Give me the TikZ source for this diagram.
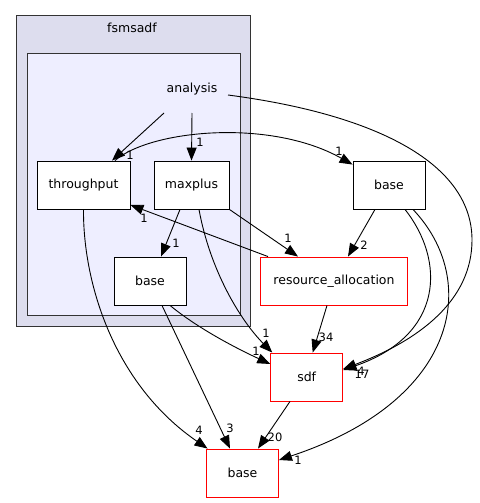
\documentclass[tikz,border=0pt]{standalone}
\usepackage{fontspec}
\setmainfont{DejaVu Sans}
\usetikzlibrary{arrows.meta,calc}
\definecolor{outerfill}{HTML}{DDDDEE}
\definecolor{innerfill}{HTML}{EEEEFF}
\definecolor{clborder}{HTML}{333333}
\begin{document}
\begin{tikzpicture}[x=1pt,y=-1pt,
  box/.style={draw=black, fill=white, line width=0.9pt, minimum height=48pt, inner sep=0pt, font=\fontsize{12.5}{14}\selectfont},
  redbox/.style={box, draw=red},
  edge/.style={draw=black, line width=0.9pt, -{Triangle[length=13pt,width=10pt]}},
  lbl/.style={font=\fontsize{11.5}{13}\selectfont, inner sep=0pt},
  cltext/.style={font=\fontsize{12.5}{14}\selectfont, inner sep=1pt},
]
\useasboundingbox (0,0) rectangle (479,503);
\fill[white] (0,0) rectangle (479,503);
\draw[fill=outerfill, draw=clborder, line width=1pt] (16,16) rectangle (250.5,326);
\node[cltext] (fsmsadf) at (132,28) {fsmsadf};
\draw[fill=innerfill, draw=clborder, line width=1pt] (27,54) rectangle (240,315);
\node[cltext] (analysis) at (192,89) {analysis};
\coordinate (an1) at (164,113);
\coordinate (an2) at (192,113);
\coordinate (an3) at (228,95);

\node[box, minimum width=93pt] (throughput) at (83.5,185) {throughput};
\node[box, minimum width=75pt] (maxplus) at (191.5,185) {maxplus};
\node[box, minimum width=72pt] (baseA) at (150,281) {base};
\node[box, minimum width=72pt] (baseR) at (389,185) {base};
\node[redbox, minimum width=147pt] (resalloc) at (334,281) {resource\_allocation};
\node[redbox, minimum width=72pt] (sdf) at (306.7,377) {sdf};
\node[redbox, minimum width=72pt] (baseB) at (242.5,473) {base};

% analysis edges
\draw[edge] (an1) -- ([xshift=28.5pt]throughput.north);
\node[lbl] at (130,155) {1};
\draw[edge] (an2) -- (maxplus.north);
\node[lbl] at (200,142) {1};
\draw[edge] (an3) .. controls (380,115) and (472,165) .. (472,240)
  .. controls (472,300) and (420,340) .. ([yshift=8pt]sdf.east);
\node[lbl] at (362,374) {17};

% throughput edges
\draw[edge] ([xshift=31.5pt]throughput.north) .. controls (150,130) and (270,118) .. ([yshift=-4pt]baseR.north west);
\node[lbl] at (339,151) {1};
\draw[edge] (throughput.south) .. controls (83,285) and (115,385) .. ([xshift=1.5pt]baseB.north west);
\node[lbl] at (199,430) {4};

% maxplus edges
\draw[edge] ([xshift=-11.5pt]maxplus.south) -- ([xshift=11pt]baseA.north);
\node[lbl] at (176,243) {1};
\draw[edge] ([xshift=7.5pt]maxplus.south) .. controls (210,270) and (240,320) .. ([xshift=2pt]sdf.north west);
\node[lbl] at (266,333) {1};
\draw[edge] (maxplus.south east) -- ([xshift=-36pt]resalloc.north);
\node[lbl] at (288,238) {1};

% resource_allocation edges
\draw[edge] ([xshift=-66pt]resalloc.north) -- ([yshift=-20pt]throughput.east);
\node[lbl] at (144,218) {1};
\draw[edge] ([xshift=-7pt]resalloc.south) -- ([xshift=6pt]sdf.north);
\node[lbl] at (326,337) {34};

% inner base edges
\draw[edge] ([xshift=20pt]baseA.south) .. controls (200,330) and (240,350) .. ([yshift=13pt]sdf.west);
\node[lbl] at (256,351) {1};
\draw[edge] ([xshift=12pt]baseA.south) -- ([xshift=-12.5pt]baseB.north);
\node[lbl] at (230,428) {3};

% right base edges
\draw[edge] ([xshift=-14pt]baseR.south) -- ([xshift=14pt]resalloc.north);
\node[lbl] at (364,245) {2};
\draw[edge] ([xshift=16pt]baseR.south) .. controls (445,260) and (445,335) .. ([yshift=7pt]sdf.east);
\node[lbl] at (361,371) {4};
\draw[edge] ([xshift=24pt]baseR.south) .. controls (480,280) and (460,400) .. ([yshift=13pt]baseB.east);
\node[lbl] at (298,460) {1};

% sdf edge
\draw[edge] ([xshift=-16.7pt]sdf.south) -- ([xshift=15.5pt]baseB.north);
\node[lbl] at (275,437) {20};
\end{tikzpicture}
\end{document}
